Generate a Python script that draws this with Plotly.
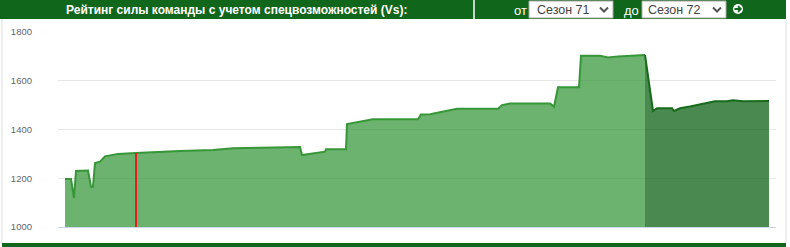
import plotly.graph_objects as go

# ---- data ----
t = [0, 6, 9, 11, 23, 26, 28, 30, 35, 40, 53, 65, 71, 115, 148, 168, 192, 212, 235, 237,
     260, 261, 281, 282, 308, 353, 356, 365, 382, 392, 433, 437, 445, 485, 489, 493, 514,
     516, 535, 543, 553, 580, 588, 592, 607, 609, 615, 625, 642, 650, 662, 668, 678, 704]
rating = [1197, 1197, 1119, 1230, 1232, 1165, 1165, 1262, 1268, 1290, 1300, 1303, 1304,
          1312, 1316, 1323, 1325, 1327, 1328, 1295, 1309, 1319, 1319, 1422, 1442, 1442,
          1462, 1463, 1477, 1485, 1485, 1500, 1507, 1507, 1494, 1573, 1573, 1703, 1703,
          1695, 1700, 1706, 1476, 1487, 1487, 1476, 1487, 1494, 1507, 1516, 1516, 1520,
          1516, 1517]
split_t = 580          # start of the darker (current) period
marker_t = 71          # red marker position
y_ticks = [1000, 1200, 1400, 1600, 1800]
title_text = "Рейтинг силы команды с учетом спецвозможностей (Vs):"
from_label, to_label = "от", "до"
season_from, season_to = "Сезон 71", "Сезон 72"

W, H = 790, 247
def px(x): return x / W
def py(y): return 1 - y / H

FONT = "Liberation Sans, Arial, sans-serif"
GREEN = "#10661a"

light_t = [a for a in t if a <= split_t]
light_v = rating[:len(light_t)]
k = t.index(split_t)
dark_t = t[k:]
dark_v = rating[k:]
marker_v = rating[t.index(marker_t)]

fig = go.Figure()
fig.add_trace(go.Scatter(x=light_t, y=light_v, mode="lines", fill="tozeroy",
                         fillcolor="rgba(58,154,62,0.75)",
                         line=dict(color="#379637", width=2), hoverinfo="skip"))
fig.add_trace(go.Scatter(x=dark_t, y=dark_v, mode="lines", fill="tozeroy",
                         fillcolor="rgba(14,99,22,0.75)",
                         line=dict(color="#186a1c", width=2), hoverinfo="skip"))
fig.add_trace(go.Scatter(x=[marker_t, marker_t], y=[y_ticks[0], marker_v], mode="lines",
                         line=dict(color="#ee1c1c", width=2), hoverinfo="skip"))

shapes = []
# header bar
shapes.append(dict(type="rect", xref="paper", yref="paper", x0=px(0), x1=px(786),
                   y0=py(19), y1=py(0), fillcolor=GREEN, line=dict(width=0), layer="above"))
shapes.append(dict(type="line", xref="paper", yref="paper", x0=px(474), x1=px(474),
                   y0=py(19), y1=py(0), line=dict(color="white", width=1.5), layer="above"))
# borders
shapes.append(dict(type="line", xref="paper", yref="paper", x0=px(2), x1=px(2),
                   y0=py(243), y1=py(19), line=dict(color="#dddddd", width=1)))
shapes.append(dict(type="line", xref="paper", yref="paper", x0=px(786), x1=px(786),
                   y0=py(243), y1=py(19), line=dict(color="#dddddd", width=1)))
# bottom bar
shapes.append(dict(type="rect", xref="paper", yref="paper", x0=px(2), x1=px(786),
                   y0=py(247), y1=py(243), fillcolor=GREEN, line=dict(width=0)))
# select boxes
for x0, x1 in [(529, 613), (642, 726)]:
    shapes.append(dict(type="rect", xref="paper", yref="paper", x0=px(x0), x1=px(x1),
                       y0=py(18), y1=py(1), fillcolor="white",
                       line=dict(color="#aaaaaa", width=1), layer="above"))
    cx = x1 - 9
    shapes.append(dict(type="path", xref="paper", yref="paper",
                       path=f"M {px(cx-4)},{py(7.5)} L {px(cx)},{py(11.5)} L {px(cx+4)},{py(7.5)}",
                       line=dict(color="#555555", width=2), layer="above"))
# go icon
shapes.append(dict(type="circle", xref="paper", yref="paper", x0=px(733), x1=px(743),
                   y0=py(14), y1=py(4), fillcolor="white", line=dict(width=0), layer="above"))
shapes.append(dict(type="path", xref="paper", yref="paper",
                   path=f"M {px(734.5)},{py(9)} L {px(740.5)},{py(9)} M {px(738)},{py(6.2)} L {px(740.8)},{py(9)} L {px(738)},{py(11.8)}",
                   line=dict(color=GREEN, width=1.8), layer="above"))

annotations = [
    dict(text=f"<b>{title_text}</b>", x=px(236), y=py(10), xref="paper", yref="paper",
         showarrow=False, xanchor="center", yanchor="middle",
         font=dict(family=FONT, size=12, color="white")),
    dict(text=from_label, x=px(520), y=py(10), xref="paper", yref="paper", showarrow=False,
         xanchor="center", yanchor="middle", font=dict(family=FONT, size=13, color="white")),
    dict(text=to_label, x=px(631), y=py(10), xref="paper", yref="paper", showarrow=False,
         xanchor="center", yanchor="middle", font=dict(family=FONT, size=13, color="white")),
    dict(text=season_from, x=px(535), y=py(10), xref="paper", yref="paper", showarrow=False,
         xanchor="left", yanchor="middle", font=dict(family=FONT, size=12.5, color="#444444")),
    dict(text=season_to, x=px(646), y=py(10), xref="paper", yref="paper", showarrow=False,
         xanchor="left", yanchor="middle", font=dict(family=FONT, size=12.5, color="#444444")),
]

fig.update_layout(
    width=W, height=H, margin=dict(l=0, r=0, t=0, b=0, autoexpand=False),
    paper_bgcolor="white", plot_bgcolor="white", showlegend=False,
    shapes=shapes, annotations=annotations,
    xaxis=dict(domain=[px(58), px(776)], range=[-7, 711], showgrid=False, zeroline=False,
               showticklabels=False, ticks="", showline=True, linecolor="#ccd6eb",
               linewidth=1, fixedrange=True, automargin=False),
    yaxis=dict(domain=[py(227), py(32)], range=[1000, 1800], tickvals=y_ticks,
               showgrid=True, gridcolor="#e6e6e6", gridwidth=1, zeroline=False,
               ticks="", ticklabelstandoff=25, automargin=False,
               tickfont=dict(family=FONT, size=9.5, color="#666666"), fixedrange=True),
)

fig.write_html("out.html")
